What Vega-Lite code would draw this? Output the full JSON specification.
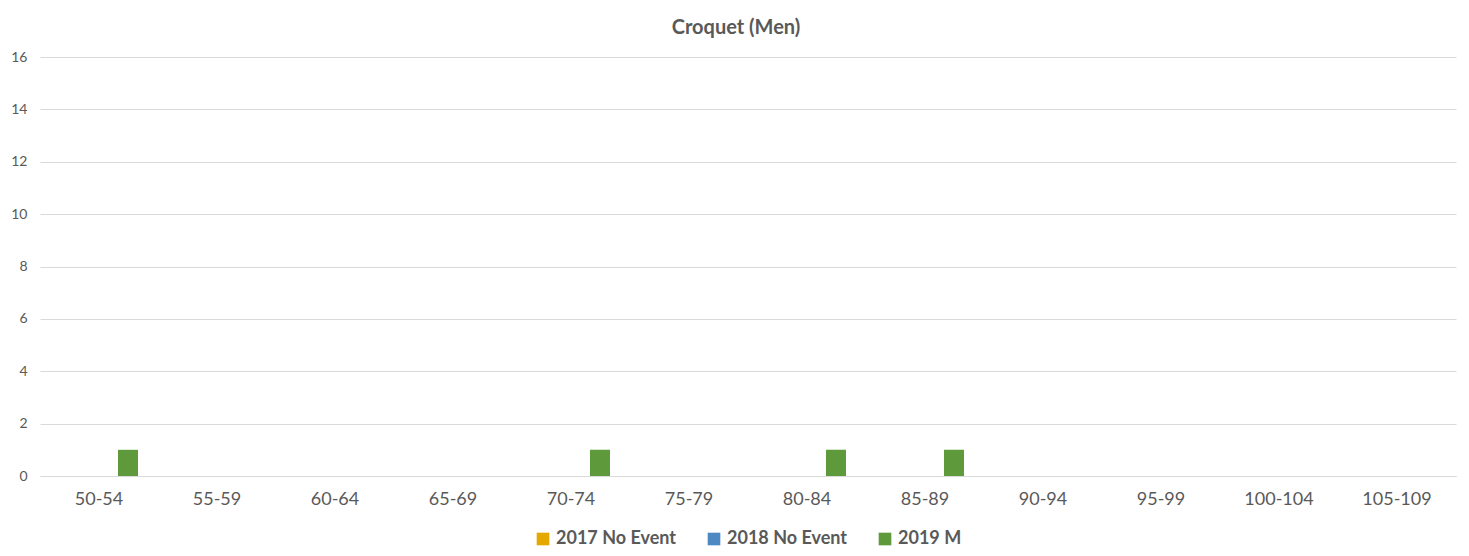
{
  "$schema": "https://vega.github.io/schema/vega-lite/v6.json",
  "width": 1416,
  "height": 419,
  "autosize": {"type": "none"},
  "padding": {"left": 40, "top": 57, "right": 13, "bottom": 80},
  "background": "white",
  "title": {"text": "Croquet (Men)", "font": "Lato", "fontSize": 20, "fontWeight": "bold", "color": "#595959", "anchor": "middle", "offset": 12, "dx": -12},
  "data": {"values": [
    {"age": "50-54", "series": "2019 M", "count": 1},
    {"age": "55-59", "series": "2019 M", "count": 0},
    {"age": "60-64", "series": "2019 M", "count": 0},
    {"age": "65-69", "series": "2019 M", "count": 0},
    {"age": "70-74", "series": "2019 M", "count": 1},
    {"age": "75-79", "series": "2019 M", "count": 0},
    {"age": "80-84", "series": "2019 M", "count": 1},
    {"age": "85-89", "series": "2019 M", "count": 1},
    {"age": "90-94", "series": "2019 M", "count": 0},
    {"age": "95-99", "series": "2019 M", "count": 0},
    {"age": "100-104", "series": "2019 M", "count": 0},
    {"age": "105-109", "series": "2019 M", "count": 0}
  ]},
  "mark": {"type": "bar"},
  "encoding": {
    "x": {
      "field": "age", "type": "nominal",
      "scale": {"domain": ["50-54","55-59","60-64","65-69","70-74","75-79","80-84","85-89","90-94","95-99","100-104","105-109"], "paddingInner": 0, "paddingOuter": 0},
      "axis": {"title": null, "labelAngle": 0, "labelFont": "Lato", "labelFontSize": 18, "labelColor": "#595959", "labelPadding": 14, "ticks": false, "domainColor": "#D9D9D9", "grid": false}
    },
    "xOffset": {
      "field": "series", "type": "nominal",
      "scale": {"domain": ["2017 No Event", "2018 No Event", "2019 M"], "paddingInner": 0.31, "paddingOuter": 0.69}
    },
    "y": {
      "field": "count", "type": "quantitative",
      "scale": {"domain": [0, 16]},
      "axis": {"title": null, "values": [0,2,4,6,8,10,12,14,16], "labelFont": "Lato", "labelFontSize": 14, "labelColor": "#595959", "labelPadding": 13, "ticks": false, "domain": false, "gridColor": "#D9D9D9", "gridWidth": 1}
    },
    "color": {
      "field": "series", "type": "nominal",
      "scale": {"domain": ["2017 No Event", "2018 No Event", "2019 M"], "range": ["#E5A800", "#4E88C3", "#5E9A3B"]},
      "legend": {"title": null, "orient": "bottom", "direction": "horizontal", "symbolType": "square", "symbolSize": 160, "symbolStrokeWidth": 0, "labelFont": "Lato", "labelFontSize": 18, "labelFontWeight": "bold", "labelColor": "#595959", "columnPadding": 28, "offset": 22}
    }
  },
  "config": {"view": {"stroke": null}, "legend": {"layout": {"bottom": {"anchor": "middle"}}}}
}
